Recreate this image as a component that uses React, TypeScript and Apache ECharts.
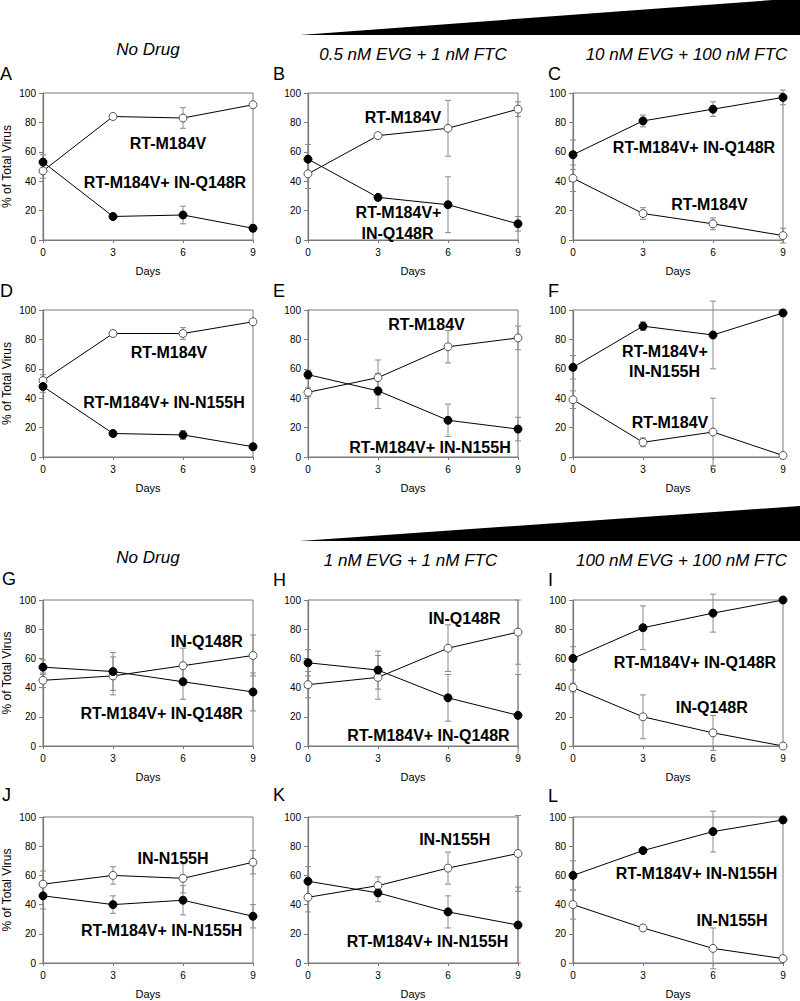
import React, { useEffect, useRef } from "react";
import * as echarts from "echarts";

// ---------- data ----------
const days = [0, 3, 6, 9];

const A_open = [47, 84, 83, 92];
const A_openErr = [5, 2, 7, 2];
const A_filled = [53, 16, 17, 8];
const A_filledErr = [5, 2, 6, 2];

const B_open = [45, 71, 76, 89];
const B_openErr = [10, 2, 19, 5];
const B_filled = [55, 29, 24, 11];
const B_filledErr = [10, 2, 19, 5];

const C_open = [42, 18, 11, 3];
const C_openErr = [9, 4, 4, 5];
const C_filled = [58, 81, 89, 97];
const C_filledErr = [10, 4, 5, 5];

const D_open = [52, 84, 84, 92];
const D_openErr = [4, 1, 4, 1];
const D_filled = [48, 16, 15, 7];
const D_filledErr = [4, 1, 3, 1];

const E_open = [44, 54, 75, 81];
const E_openErr = [3, 12, 11, 8];
const E_filled = [56, 45, 25, 19];
const E_filledErr = [3, 12, 11, 8];

const F_open = [39, 10, 17, 1];
const F_openErr = [6, 3, 23, 2];
const F_filled = [61, 89, 83, 98];
const F_filledErr = [8, 3, 23, 2];

const G_open = [45, 48, 55, 62];
const G_openErr = [5, 13, 12, 14];
const G_filled = [54, 51, 44, 37];
const G_filledErr = [5, 13, 12, 13];

const H_open = [42, 47, 67, 78];
const H_openErr = [9, 15, 16, 22];
const H_filled = [57, 52, 33, 21];
const H_filledErr = [9, 13, 16, 28];

const I_open = [40, 20, 9, 0];
const I_openErr = [3, 15, 12, 0];
const I_filled = [60, 81, 91, 100];
const I_filledErr = [8, 15, 13, 0];

const J_open = [54, 60, 58, 69];
const J_openErr = [9, 6, 10, 8];
const J_filled = [46, 40, 43, 32];
const J_filledErr = [9, 6, 10, 8];

const K_open = [45, 53, 65, 75];
const K_openErr = [10, 6, 11, 26];
const K_filled = [56, 48, 35, 26];
const K_filledErr = [10, 6, 11, 26];

const L_open = [40, 24, 10, 3];
const L_openErr = [10, 2, 14, 1];
const L_filled = [60, 77, 90, 98];
const L_filledErr = [10, 2, 14, 1];

const yTickLabels = ["0", "20", "40", "60", "80", "100"];
const xTickLabels = ["0", "3", "6", "9"];

const topTitles = ["No Drug", "0.5 nM EVG + 1 nM FTC", "10 nM EVG + 100 nM FTC"];
const bottomTitles = ["No Drug", "1 nM EVG + 1 nM FTC", "100 nM EVG + 100 nM FTC"];

const FONT = "'Liberation Sans', Arial, Helvetica, sans-serif";

type Panel = {
  letter: string;
  open: number[];
  openErr: number[];
  filled: number[];
  filledErr: number[];
  labels: { text: string; x: number; y: number }[];
};

const panels: Panel[] = [
  { letter: "A", open: A_open, openErr: A_openErr, filled: A_filled, filledErr: A_filledErr,
    labels: [{ text: "RT-M184V", x: 168, y: 143 }, { text: "RT-M184V+ IN-Q148R", x: 165, y: 182.5 }] },
  { letter: "B", open: B_open, openErr: B_openErr, filled: B_filled, filledErr: B_filledErr,
    labels: [{ text: "RT-M184V", x: 403, y: 117.5 }, { text: "RT-M184V+", x: 398.5, y: 212.5 }, { text: "IN-Q148R", x: 397.5, y: 233 }] },
  { letter: "C", open: C_open, openErr: C_openErr, filled: C_filled, filledErr: C_filledErr,
    labels: [{ text: "RT-M184V+ IN-Q148R", x: 694, y: 147.5 }, { text: "RT-M184V", x: 709.5, y: 204 }] },
  { letter: "D", open: D_open, openErr: D_openErr, filled: D_filled, filledErr: D_filledErr,
    labels: [{ text: "RT-M184V", x: 169, y: 352.5 }, { text: "RT-M184V+ IN-N155H", x: 164, y: 402.5 }] },
  { letter: "E", open: E_open, openErr: E_openErr, filled: E_filled, filledErr: E_filledErr,
    labels: [{ text: "RT-M184V", x: 426.5, y: 324 }, { text: "RT-M184V+ IN-N155H", x: 430, y: 447 }] },
  { letter: "F", open: F_open, openErr: F_openErr, filled: F_filled, filledErr: F_filledErr,
    labels: [{ text: "RT-M184V+", x: 665, y: 351.7 }, { text: "IN-N155H", x: 664.5, y: 371 }, { text: "RT-M184V", x: 670, y: 422.5 }] },
  { letter: "G", open: G_open, openErr: G_openErr, filled: G_filled, filledErr: G_filledErr,
    labels: [{ text: "IN-Q148R", x: 206.7, y: 641 }, { text: "RT-M184V+ IN-Q148R", x: 161.7, y: 713 }] },
  { letter: "H", open: H_open, openErr: H_openErr, filled: H_filled, filledErr: H_filledErr,
    labels: [{ text: "IN-Q148R", x: 464.5, y: 618.5 }, { text: "RT-M184V+ IN-Q148R", x: 428.5, y: 735 }] },
  { letter: "I", open: I_open, openErr: I_openErr, filled: I_filled, filledErr: I_filledErr,
    labels: [{ text: "RT-M184V+ IN-Q148R", x: 695, y: 662.5 }, { text: "IN-Q148R", x: 711.7, y: 707.5 }] },
  { letter: "J", open: J_open, openErr: J_openErr, filled: J_filled, filledErr: J_filledErr,
    labels: [{ text: "IN-N155H", x: 173, y: 858.5 }, { text: "RT-M184V+ IN-N155H", x: 161.7, y: 930 }] },
  { letter: "K", open: K_open, openErr: K_openErr, filled: K_filled, filledErr: K_filledErr,
    labels: [{ text: "IN-N155H", x: 454.7, y: 839.5 }, { text: "RT-M184V+ IN-N155H", x: 427.5, y: 941 }] },
  { letter: "L", open: L_open, openErr: L_openErr, filled: L_filled, filledErr: L_filledErr,
    labels: [{ text: "RT-M184V+ IN-N155H", x: 696.5, y: 873.5 }, { text: "IN-N155H", x: 732, y: 920 }] },
];

// ---------- layout ----------
const colLeft = [43, 308, 573];
const plotW = 210;
const rowTop = [93, 310, 600, 817];
const rowH = [147, 147, 146, 146];
const letterPos = [
  [0, 74], [273, 74], [548, 74],
  [0, 291], [273, 291], [548, 291],
  [2, 579], [273, 580], [548, 580],
  [2, 795], [273, 795], [548, 796],
];

function errorSeries(idx: number, vals: number[], errs: number[]) {
  return {
    type: "custom",
    xAxisIndex: idx,
    yAxisIndex: idx,
    z: 1,
    silent: true,
    data: days.map((d, k) => [d, vals[k], errs[k]]),
    renderItem: (params: any, api: any) => {
      const x = api.value(0);
      const y = api.value(1);
      const e = api.value(2);
      if (!e) return { type: "group", children: [] };
      const hi = api.coord([x, y + e]);
      const lo = api.coord([x, y - e]);
      const w = 3;
      const st = { stroke: "#8a8a8a", lineWidth: 1 };
      return {
        type: "group",
        children: [
          { type: "line", shape: { x1: hi[0], y1: hi[1], x2: lo[0], y2: lo[1] }, style: st },
          { type: "line", shape: { x1: hi[0] - w, y1: hi[1], x2: hi[0] + w, y2: hi[1] }, style: st },
          { type: "line", shape: { x1: lo[0] - w, y1: lo[1], x2: lo[0] + w, y2: lo[1] }, style: st },
        ],
      };
    },
  };
}

function lineSeries(idx: number, vals: number[], filled: boolean) {
  return {
    type: "line",
    xAxisIndex: idx,
    yAxisIndex: idx,
    z: filled ? 4 : 3,
    data: days.map((d, k) => [d, vals[k]]),
    symbol: "circle",
    symbolSize: 8,
    showSymbol: true,
    lineStyle: { color: "#000", width: 1 },
    itemStyle: filled
      ? { color: "#000", borderColor: "#000", borderWidth: 1 }
      : { color: "#fff", borderColor: "#555", borderWidth: 1 },
    emphasis: { disabled: true },
  };
}

export default function App() {
  const ref = useRef<HTMLDivElement>(null);

  useEffect(() => {
    if (!ref.current) return;
    const chart = echarts.init(ref.current, undefined, { renderer: "svg" });

    const grids: any[] = [];
    const xAxes: any[] = [];
    const yAxes: any[] = [];
    const series: any[] = [];
    const graphic: any[] = [];

    const axisColor = "#7a7a7a";

    panels.forEach((p, i) => {
      const r = Math.floor(i / 3);
      const c = i % 3;
      grids.push({
        left: colLeft[c],
        top: rowTop[r],
        width: plotW,
        height: rowH[r],
        show: true,
        borderColor: axisColor,
        borderWidth: 1,
        backgroundColor: "transparent",
      });
      xAxes.push({
        type: "value",
        gridIndex: i,
        min: 0,
        max: 9,
        interval: 3,
        name: "Days",
        nameLocation: "middle",
        nameGap: 25,
        nameTextStyle: { fontSize: 11, color: "#000", fontFamily: FONT },
        axisLine: { show: true, lineStyle: { color: axisColor, width: 1.2 } },
        axisTick: { show: true, length: 3, lineStyle: { color: axisColor } },
        splitLine: { show: false },
        axisLabel: {
          fontSize: 10,
          color: "#000",
          margin: 7,
          fontFamily: FONT,
          formatter: (v: number) => xTickLabels[days.indexOf(v)] ?? String(v),
        },
      });
      yAxes.push({
        type: "value",
        gridIndex: i,
        min: 0,
        max: 100,
        interval: 20,
        axisLine: { show: true, lineStyle: { color: axisColor, width: 1.2 } },
        axisTick: { show: true, length: 4, lineStyle: { color: axisColor } },
        splitLine: { show: false },
        axisLabel: {
          fontSize: 10,
          color: "#000",
          margin: 7,
          fontFamily: FONT,
          formatter: (v: number) => yTickLabels[v / 20] ?? String(v),
        },
      });
      series.push(errorSeries(i, p.open, p.openErr));
      series.push(errorSeries(i, p.filled, p.filledErr));
      series.push(lineSeries(i, p.open, false));
      series.push(lineSeries(i, p.filled, true));

      // panel letter
      graphic.push({
        type: "text",
        x: letterPos[i][0],
        y: letterPos[i][1],
        style: {
          text: p.letter,
          fontSize: 18,
          fontFamily: FONT,
          fill: "#000",
          align: "left",
          verticalAlign: "middle",
        },
      });
      // in-plot labels
      p.labels.forEach((lb) => {
        graphic.push({
          type: "text",
          x: lb.x,
          y: lb.y,
          z: 10,
          style: {
            text: lb.text,
            fontSize: 16,
            fontWeight: "bold",
            fontFamily: FONT,
            fill: "#000",
            align: "center",
            verticalAlign: "middle",
          },
        });
      });
      // y axis title on left column
      if (c === 0) {
        graphic.push({
          type: "text",
          x: 7,
          y: rowTop[r] + rowH[r] / 2,
          rotation: Math.PI / 2,
          style: {
            text: "% of Total Virus",
            fontSize: 12,
            fontFamily: FONT,
            fill: "#000",
            align: "center",
            verticalAlign: "middle",
          },
        });
      }
    });

    // condition titles
    const topTitleX = [148, 413, 686.5];
    const bottomTitleX = [148, 410.5, 681.5];
    topTitles.forEach((t, c) => {
      graphic.push({
        type: "text",
        x: topTitleX[c],
        y: c === 0 ? 49.5 : 54,
        style: { text: t, fontSize: 17, fontStyle: "italic", fontFamily: FONT, fill: "#000", align: "center", verticalAlign: "middle" },
      });
    });
    bottomTitles.forEach((t, c) => {
      graphic.push({
        type: "text",
        x: bottomTitleX[c],
        y: c === 0 ? 557.5 : 560.5,
        style: { text: t, fontSize: 17, fontStyle: "italic", fontFamily: FONT, fill: "#000", align: "center", verticalAlign: "middle" },
      });
    });

    // concentration wedges
    graphic.push({
      type: "polygon",
      shape: { points: [[300, 35], [800, -2], [800, 35]] },
      style: { fill: "#000" },
    });
    graphic.push({
      type: "polygon",
      shape: { points: [[300, 541], [800, 506], [800, 541]] },
      style: { fill: "#000" },
    });

    chart.setOption({
      animation: false,
      backgroundColor: "#fff",
      textStyle: { fontFamily: FONT },
      grid: grids,
      xAxis: xAxes,
      yAxis: yAxes,
      series,
      graphic,
    });

    return () => chart.dispose();
  }, []);

  return (
    <div
      ref={ref}
      style={{ position: "absolute", left: 0, top: 0, width: 800, height: 1001, background: "#fff" }}
    />
  );
}
